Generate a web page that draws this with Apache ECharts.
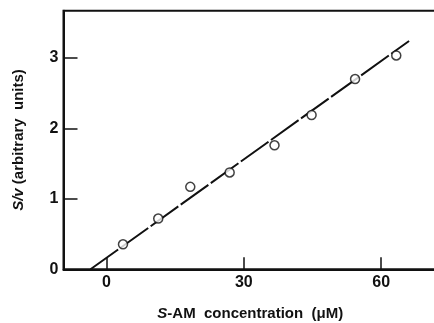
<!DOCTYPE html>
<html>
<head>
<meta charset="utf-8">
<script src="https://cdn.jsdelivr.net/npm/echarts@6/dist/echarts.min.js"></script>
<style>html,body{margin:0;padding:0;background:#fff}#c{width:434px;height:323px}</style>
</head>
<body>
<div id="c"></div>
<script>
// Data
var concentration = [3.6, 11.3, 18.3, 26.9, 36.7, 44.8, 54.3, 63.3];
var sOverV = [0.355, 0.72, 1.17, 1.375, 1.76, 2.19, 2.70, 3.035];
var fitX = [-3.5, 66.1];
var fitY = [0, 3.24];
var xTicks = [0, 30, 60];
var yTicks = [0, 1, 2, 3];

var pts = concentration.map(function (x, i) { return [x, sOverV[i]]; });
var fit = fitX.map(function (x, i) { return [x, fitY[i]]; });

var ink = '#111';
var font = 'Liberation Sans';
var chart = echarts.init(document.getElementById('c'), null, { renderer: 'canvas' });
chart.setOption({
  animation: false,
  backgroundColor: '#fff',
  grid: { left: 63.5, right: -3, top: 10.7, bottom: 53.7, containLabel: false, outerBoundsMode: 'none',
    show: true, borderColor: ink, borderWidth: 2, backgroundColor: 'transparent' },
  xAxis: {
    type: 'value', min: -9.4, max: 72.2,
    name: '{i|S}-AM  concentration  (μM)',
    nameLocation: 'middle', nameGap: 37,
    nameTextStyle: { color: ink, fontSize: 15, fontFamily: font, fontWeight: 'bold',
      rich: { i: { fontStyle: 'italic', fontSize: 15, fontFamily: font, fontWeight: 'bold', color: ink } } },
    axisLine: { show: true, onZero: false, lineStyle: { color: ink, width: 2 } },
    axisTick: { show: true, inside: true, length: 12, customValues: xTicks, lineStyle: { color: ink, width: 1.5 } },
    axisLabel: { customValues: xTicks, color: ink, fontSize: 16, fontFamily: font, fontWeight: 'bold', margin: 5 },
    splitLine: { show: false }
  },
  yAxis: {
    type: 'value', min: 0, max: 3.67,
    name: '{i|S/v} (arbitrary  units)',
    nameLocation: 'middle', nameGap: 37, nameRotate: 90,
    nameTextStyle: { color: ink, fontSize: 15, fontFamily: font, fontWeight: 'bold',
      rich: { i: { fontStyle: 'italic', fontSize: 15, fontFamily: font, fontWeight: 'bold', color: ink } } },
    axisLine: { show: true, onZero: false, lineStyle: { color: ink, width: 2 } },
    axisTick: { show: true, inside: true, length: 14, customValues: yTicks, lineStyle: { color: ink, width: 1.5 } },
    axisLabel: { customValues: yTicks, color: ink, fontSize: 16, fontFamily: font, fontWeight: 'bold', margin: 5 },
    splitLine: { show: false }
  },
  series: [{
    type: 'line', data: fit, showSymbol: false, symbol: 'none',
    lineStyle: { color: ink, width: 2, type: [34, 3] }, z: 2
  }, {
    type: 'scatter', data: pts, symbol: 'circle', symbolSize: 9,
    itemStyle: { color: '#fff', borderColor: ink, borderWidth: 1.5 }, z: 3
  }]
});
</script>
</body>
</html>
